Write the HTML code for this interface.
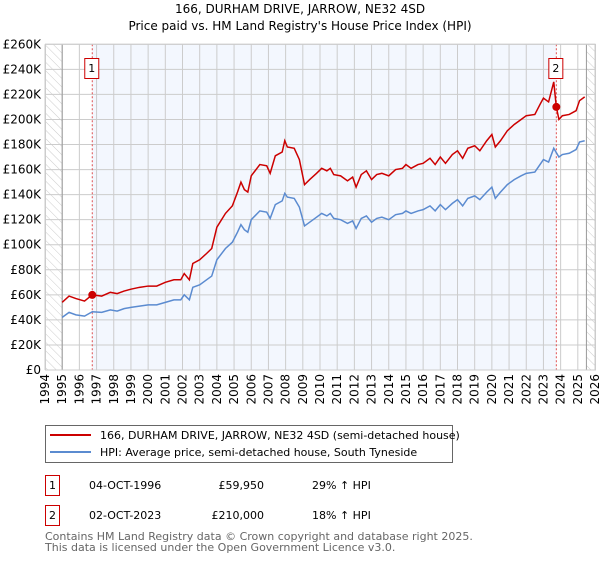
<!DOCTYPE html>
<html><head><meta charset="utf-8"><style>
body{margin:0;background:#fff;font-family:"DejaVu Sans","Liberation Sans",sans-serif;}
svg text{font-family:"DejaVu Sans","Liberation Sans",sans-serif;}
</style></head><body>
<svg id="chart" width="600" height="560" viewBox="0 0 600 560" xmlns="http://www.w3.org/2000/svg">
<defs><pattern id="hatch" width="6" height="6" patternUnits="userSpaceOnUse" patternTransform="rotate(-45)"><line x1="0" y1="0" x2="0" y2="6" stroke="#ccc" stroke-width="1"/></pattern></defs>
<text x="300" y="13" text-anchor="middle" font-size="12">166, DURHAM DRIVE, JARROW, NE32 4SD</text>
<text x="300" y="30" text-anchor="middle" font-size="12">Price paid vs. HM Land Registry's House Price Index (HPI)</text>
<g id="plot"></g>
<g>
<rect x="45.5" y="425.5" width="407" height="37" fill="#fff" stroke="#666"/>
<line x1="50" y1="435" x2="91" y2="435" stroke="#cc0000" stroke-width="2"/>
<text x="100" y="439" font-size="11">166, DURHAM DRIVE, JARROW, NE32 4SD (semi-detached house)</text>
<line x1="50" y1="452" x2="91" y2="452" stroke="#5b8bd0" stroke-width="2"/>
<text x="100" y="456" font-size="11">HPI: Average price, semi-detached house, South Tyneside</text>
</g>
<g font-size="11">
<rect x="45.5" y="475.5" width="14" height="20" fill="#fff" stroke="#cc0000"/>
<text x="52.5" y="489" text-anchor="middle">1</text>
<text x="89" y="489">04-OCT-1996</text>
<text x="264" y="489" text-anchor="end">£59,950</text>
<text x="312" y="489">29% ↑ HPI</text>
</g>
<g font-size="11">
<rect x="45.5" y="505.5" width="14" height="20" fill="#fff" stroke="#cc0000"/>
<text x="52.5" y="519" text-anchor="middle">2</text>
<text x="89" y="519">02-OCT-2023</text>
<text x="264" y="519" text-anchor="end">£210,000</text>
<text x="312" y="519">18% ↑ HPI</text>
</g>
<text x="45" y="540" font-size="11" fill="#666">Contains HM Land Registry data © Crown copyright and database right 2025.</text>
<text x="45" y="551" font-size="11" fill="#666">This data is licensed under the Open Government Licence v3.0.</text>
</svg>
<script>
const yTicks=[0,20,40,60,80,100,120,140,160,180,200,220,240,260];
const yearTicks=[1994,1995,1996,1997,1998,1999,2000,2001,2002,2003,2004,2005,2006,2007,2008,2009,2010,2011,2012,2013,2014,2015,2016,2017,2018,2019,2020,2021,2022,2023,2024,2025,2026];
const hpiDates=[1995,1995.4,1995.8,1996.3,1996.75,1997.3,1997.8,1998.2,1998.6,1999,1999.5,2000,2000.5,2001,2001.5,2001.9,2002.1,2002.4,2002.6,2003,2003.4,2003.7,2004,2004.5,2004.9,2005.2,2005.4,2005.6,2005.8,2006,2006.5,2006.9,2007.1,2007.4,2007.8,2007.95,2008.1,2008.5,2008.8,2009.1,2009.4,2009.8,2010.1,2010.4,2010.6,2010.8,2011.2,2011.6,2011.9,2012.1,2012.4,2012.7,2013,2013.3,2013.6,2014,2014.4,2014.8,2015,2015.3,2015.7,2016,2016.4,2016.7,2017,2017.3,2017.7,2018,2018.3,2018.6,2019,2019.3,2019.7,2020,2020.2,2020.5,2020.9,2021.3,2021.7,2022,2022.5,2022.8,2023,2023.3,2023.6,2023.9,2024.1,2024.5,2024.9,2025.1,2025.4];
const hpiValues=[42,46,44,43,46.5,46,48,47,49,50,51,52,52,54,56,56,60,56,66,68,72,75,88,97,102,110,116,112,110,120,127,126,121,132,135,141,138,137,130,115,118,122,125,123,125,121,120,117,119,113,121,123,118,121,122,120,124,125,127,125,127,128,131,127,132,128,133,136,131,137,139,136,142,146,137,142,148,152,155,157,158,164,168,166,177,170,172,173,176,182,183];
const priceDates=[1995,1995.4,1995.8,1996.3,1996.75,1997.3,1997.8,1998.2,1998.6,1999,1999.5,2000,2000.5,2001,2001.5,2001.9,2002.1,2002.4,2002.6,2003,2003.4,2003.7,2004,2004.5,2004.9,2005.2,2005.4,2005.6,2005.8,2006,2006.5,2006.9,2007.1,2007.4,2007.8,2007.95,2008.1,2008.5,2008.8,2009.1,2009.4,2009.8,2010.1,2010.4,2010.6,2010.8,2011.2,2011.6,2011.9,2012.1,2012.4,2012.7,2013,2013.3,2013.6,2014,2014.4,2014.8,2015,2015.3,2015.7,2016,2016.4,2016.7,2017,2017.3,2017.7,2018,2018.3,2018.6,2019,2019.3,2019.7,2020,2020.2,2020.5,2020.9,2021.3,2021.7,2022,2022.5,2022.8,2023,2023.3,2023.6,2023.75,2023.9,2024.1,2024.5,2024.9,2025.1,2025.4];
const priceValues=[54,59,57,55,60,59,62,61,63,64.5,66,67,67,70,72,72,77,72,85,88,93,97,114,125,131,142,150,144,142,155,164,163,157,171,174,183,178,177,168,148,152,157,161,159,161,156,155,151,154,146,156,159,152,156,157,155,160,161,164,161,164,165,169,164,170,165,172,175,169,177,179,175,183,188,178,183,191,196,200,203,204,212,217,214,230,210,200,203,204,207,215,218];
const sales=[{n:"1",date:1996.75,price:59.95},{n:"2",date:2023.75,price:210}];
const NS="http://www.w3.org/2000/svg";
const L=45,R=595,T=44.3,B=370;
const x=y=>L+(y-1994)*(R-L)/32;
const yS=v=>B-v*(B-T)/260;
const g=document.getElementById('plot');
function mk(tag,attrs,parent){const e=document.createElementNS(NS,tag);for(const k in attrs)e.setAttribute(k,attrs[k]);(parent||g).appendChild(e);return e;}
let e;
e=mk('rect',{x:x(1996.75),y:T,width:x(2023.75)-x(1996.75),height:B-T,fill:'#f3f7fe'});


e=mk('rect',{x:L,y:T,width:x(1995)-L,height:B-T,fill:'url(#hatch)'});


e=mk('rect',{x:x(2025.5),y:T,width:R-x(2025.5),height:B-T,fill:'url(#hatch)'});


yTicks.forEach(v=>{
 e=mk('line',{x1:L,x2:R,y1:yS(v),y2:yS(v),stroke:'#ccc','stroke-width':1});
 
 
 e=mk('text',{x:L-4,y:yS(v)+4,'text-anchor':'end','font-size':12});
 e.textContent=v===0?'£0':'£'+v+'K';
 
 
});
yearTicks.forEach(yr=>{
 e=mk('line',{x1:x(yr),x2:x(yr),y1:T,y2:B,stroke:'#ccc','stroke-width':1});
 
 
 e=mk('text',{x:0,y:0,'text-anchor':'end','font-size':12,transform:`translate(${x(yr)+4},${B+4}) rotate(-90)`});
 e.textContent=yr;
 
 
});
e=mk('line',{x1:x(1995),x2:x(1995),y1:T,y2:B,stroke:'#999','stroke-width':1});


e=mk('line',{x1:x(2025.5),x2:x(2025.5),y1:T,y2:B,stroke:'#999','stroke-width':1});


sales.forEach(s=>{
 e=mk('line',{x1:x(s.date),x2:x(s.date),y1:T,y2:B,stroke:'#e05050','stroke-width':1,'stroke-dasharray':'2,2'});
 
 
});
e=mk('polyline',{points:hpiDates.map((d,i)=>x(d)+','+yS(hpiValues[i])).join(' '),fill:'none',stroke:'#5b8bd0','stroke-width':1.5});


e=mk('polyline',{points:priceDates.map((d,i)=>x(d)+','+yS(priceValues[i])).join(' '),fill:'none',stroke:'#cc0000','stroke-width':1.5});


sales.forEach(s=>{
 e=mk('circle',{cx:x(s.date),cy:yS(s.price),r:4,fill:'#cc0000'});
 
 
 e=mk('rect',{x:x(s.date)-7.5,y:58.5,width:14,height:20,fill:'#fff',stroke:'#cc0000'});
 
 
 e=mk('text',{x:x(s.date)-0.5,y:72,'text-anchor':'middle','font-size':11});
 e.textContent=s.n;
 
 
});
e=mk('rect',{x:L+0.5,y:T,width:R-L,height:B-T,fill:'none',stroke:'#ccc'});


</script>
</body></html>
